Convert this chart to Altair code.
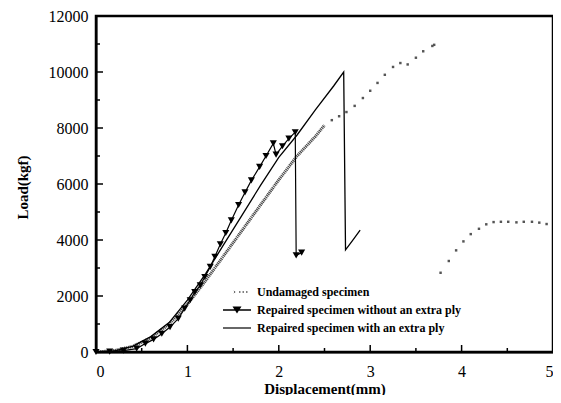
import altair as alt
import pandas as pd

SERIES = [
    "Undamaged specimen",
    "Repaired specimen without an extra ply",
    "Repaired specimen with an extra ply",
]

# Undamaged specimen: dense part (stippled curve), sparse points, post-failure branch
und_dense_x = [0, 0.2, 0.4, 0.6, 0.8, 1.0, 1.2, 1.4, 1.6, 1.8, 2.0, 2.2, 2.4, 2.5]
und_dense_y = [0, 50, 200, 500, 1000, 1700, 2550, 3450, 4350, 5250, 6150, 7000, 7700, 8100]
und_sparse_x = [2.58, 2.66, 2.74, 2.83, 2.92, 3.00, 3.08, 3.16, 3.25, 3.33, 3.41, 3.50, 3.58, 3.68, 3.70]
und_sparse_y = [8280, 8420, 8570, 8790, 9070, 9330, 9610, 9900, 10180, 10320, 10270, 10510, 10740, 10930, 10970]
und_post_x = [3.77, 3.86, 3.94, 4.02, 4.10, 4.19, 4.27, 4.35, 4.43, 4.51, 4.60, 4.68, 4.77, 4.85, 4.93]
und_post_y = [2830, 3250, 3630, 3950, 4210, 4400, 4560, 4640, 4650, 4650, 4630, 4650, 4650, 4620, 4570]

# Repaired specimen without an extra ply (triangles)
rep_x = [0.0, 0.15, 0.30, 0.445, 0.54, 0.63, 0.72, 0.81, 0.90, 0.97, 1.03, 1.08, 1.14, 1.19, 1.25,
         1.30, 1.36, 1.42, 1.48, 1.56, 1.63, 1.70, 1.79, 1.86, 1.94, 1.97, 2.04, 2.11, 2.18, 2.19, 2.25]
rep_y = [0, 15, 50, 120, 300, 450, 650, 890, 1190, 1550, 1850, 2140, 2380, 2680, 3040,
         3400, 3850, 4250, 4700, 5250, 5700, 6130, 6610, 7000, 7450, 7050, 7350, 7620, 7850, 3450, 3550]

# Repaired specimen with an extra ply (solid line)
ply_x = [0, 0.2, 0.4, 0.6, 0.8, 1.0, 1.2, 1.4, 1.6, 1.8, 2.0, 2.2, 2.4, 2.6, 2.71, 2.73, 2.8, 2.89]
ply_y = [0, 40, 200, 550, 1050, 1850, 2800, 3850, 4900, 5950, 6950, 7750, 8650, 9500, 10000, 3650, 3950, 4350]

# axes
X_DOMAIN = [0, 5]
Y_DOMAIN = [0, 12000]
X_LABELS = [0, 1, 2, 3, 4, 5]
X_MINOR = [0.5, 1.5, 2.5, 3.5, 4.5]
Y_LABELS = [0, 2000, 4000, 6000, 8000, 10000, 12000]
Y_MINOR = [1000, 3000, 5000, 7000, 9000, 11000]

# legend symbols (custom filled paths)
LEGEND_PATHS = [
    "M-0.7,-0.3L-0.3,0L-0.7,0.3L-0.5,0L-0.7,-0.3Z"
    "M0.4,-0.1L0.7,-0.1L0.7,0.1L0.4,0.1ZM1.1,-0.1L1.4,-0.1L1.4,0.1L1.1,0.1ZM1.8,-0.1L2.1,-0.1L2.1,0.1L1.8,0.1Z",
    "M-2.8,-0.13L2.8,-0.13L2.8,0.13L-2.8,0.13ZM-0.9,-0.7L0.9,-0.7L0,0.7Z",
    "M-2.8,-0.12L2.8,-0.12L2.8,0.12L-2.8,0.12Z",
]

def frame(xs, ys, series):
    return pd.DataFrame({"x": xs, "y": ys, "series": series, "idx": range(len(xs))})

dense = frame(und_dense_x, und_dense_y, SERIES[0])
sparse = pd.concat([frame(und_sparse_x, und_sparse_y, SERIES[0]),
                    frame(und_post_x, und_post_y, SERIES[0])])
rep = frame(rep_x, rep_y, SERIES[1])
ply = frame(ply_x, ply_y, SERIES[2])
allpts = pd.concat([dense, rep, ply])

x0, x1 = X_DOMAIN
y0, y1 = Y_DOMAIN
box = pd.DataFrame({"x": [x0, x1, x1, x0, x0], "y": [y0, y0, y1, y1, y0], "idx": range(5)})
xt_major = pd.DataFrame({"x": X_LABELS, "y": y0})
xt_minor = pd.DataFrame({"x": X_MINOR, "y": y0})
yt_major = pd.DataFrame({"x": x0, "y": Y_LABELS})
yt_minor = pd.DataFrame({"x": x0, "y": Y_MINOR})

W, H = 457, 336
FONT = "Liberation Serif"
xs = alt.Scale(domain=X_DOMAIN, nice=False)
ys = alt.Scale(domain=Y_DOMAIN, nice=False)

x_main = alt.Axis(orient="bottom", values=X_LABELS, format="d", ticks=False, domain=True,
                  domainColor="black", domainWidth=2,
                  labelPadding=11, labelFont=FONT, labelFontSize=16, labelColor="black", grid=False,
                  title="Displacement(mm)", titleFont=FONT, titleFontSize=15,
                  titleFontWeight="bold", titleColor="black", titleY=36, titleBaseline="middle")
y_main = alt.Axis(orient="left", values=Y_LABELS, format="d", ticks=False, domain=True,
                  domainColor="black", domainWidth=2,
                  labelPadding=8, labelFont=FONT, labelFontSize=16, labelColor="black", grid=False,
                  title="Load(kgf)", titleFont=FONT, titleFontSize=15,
                  titleFontWeight="bold", titleColor="black", titleX=-74, titleY=171,
                  titleBaseline="middle")

X = lambda: alt.X("x:Q", scale=xs)
Y = lambda: alt.Y("y:Q", scale=ys)

dense_line = alt.Chart(dense).mark_line(color="#4a4a4a", strokeWidth=3, strokeDash=[1.2, 0.7]).encode(
    x=alt.X("x:Q", scale=xs, axis=x_main),
    y=alt.Y("y:Q", scale=ys, axis=y_main),
    order="idx:Q",
)
sparse_pts = alt.Chart(sparse).mark_point(shape="square", filled=True, size=6, color="#555555", opacity=1).encode(
    x=X(), y=Y(),
)
rep_line = alt.Chart(rep).mark_line(color="black", strokeWidth=1.2).encode(
    x=X(), y=Y(), order="idx:Q",
)
rep_pts = alt.Chart(rep).mark_point(shape="triangle-down", filled=True, size=50, color="black", opacity=1).encode(
    x=X(), y=Y(),
)
ply_line = alt.Chart(ply).mark_line(color="black", strokeWidth=1.3).encode(
    x=X(), y=Y(), order="idx:Q",
)
legend_layer = alt.Chart(allpts).mark_point(filled=True, color="black", opacity=0).encode(
    x=X(), y=Y(),
    shape=alt.Shape("series:N", scale=alt.Scale(domain=SERIES, range=LEGEND_PATHS),
                    legend=alt.Legend(title=None, orient="none", legendX=135, legendY=270,
                                      symbolSize=100, symbolOpacity=1,
                                      symbolFillColor="black",
                                      labelOffset=14, rowPadding=5, padding=0, labelLimit=0,
                                      labelFont=FONT, labelFontSize=12, labelFontWeight="bold",
                                      labelColor="black")),
)
frame_line = alt.Chart(box).mark_line(color="black", strokeWidth=2.5, clip=False).encode(
    x=X(), y=Y(), order="idx:Q",
)
xt1 = alt.Chart(xt_major).mark_tick(orient="vertical", size=7, thickness=1.5, color="black",
                                    yOffset=-3.5, opacity=1).encode(x=X(), y=Y())
xt2 = alt.Chart(xt_minor).mark_tick(orient="vertical", size=4, thickness=1.5, color="black",
                                    yOffset=-2, opacity=1).encode(x=X(), y=Y())
yt1 = alt.Chart(yt_major).mark_tick(orient="horizontal", size=7, thickness=1.5, color="black",
                                    xOffset=3.5, opacity=1).encode(x=X(), y=Y())
yt2 = alt.Chart(yt_minor).mark_tick(orient="horizontal", size=4, thickness=1.5, color="black",
                                    xOffset=2, opacity=1).encode(x=X(), y=Y())

chart = alt.layer(dense_line, sparse_pts, rep_line, rep_pts, ply_line, legend_layer,
                  frame_line, xt1, xt2, yt1, yt2).properties(
    width=W, height=H,
    background="white",
    autosize=alt.AutoSizeParams(type="none"),
    padding={"left": 88, "top": 8, "right": 0, "bottom": 43},
).configure_view(stroke="black", strokeWidth=2)

chart.save("out.html", embed_options={"renderer": "svg", "actions": False})
